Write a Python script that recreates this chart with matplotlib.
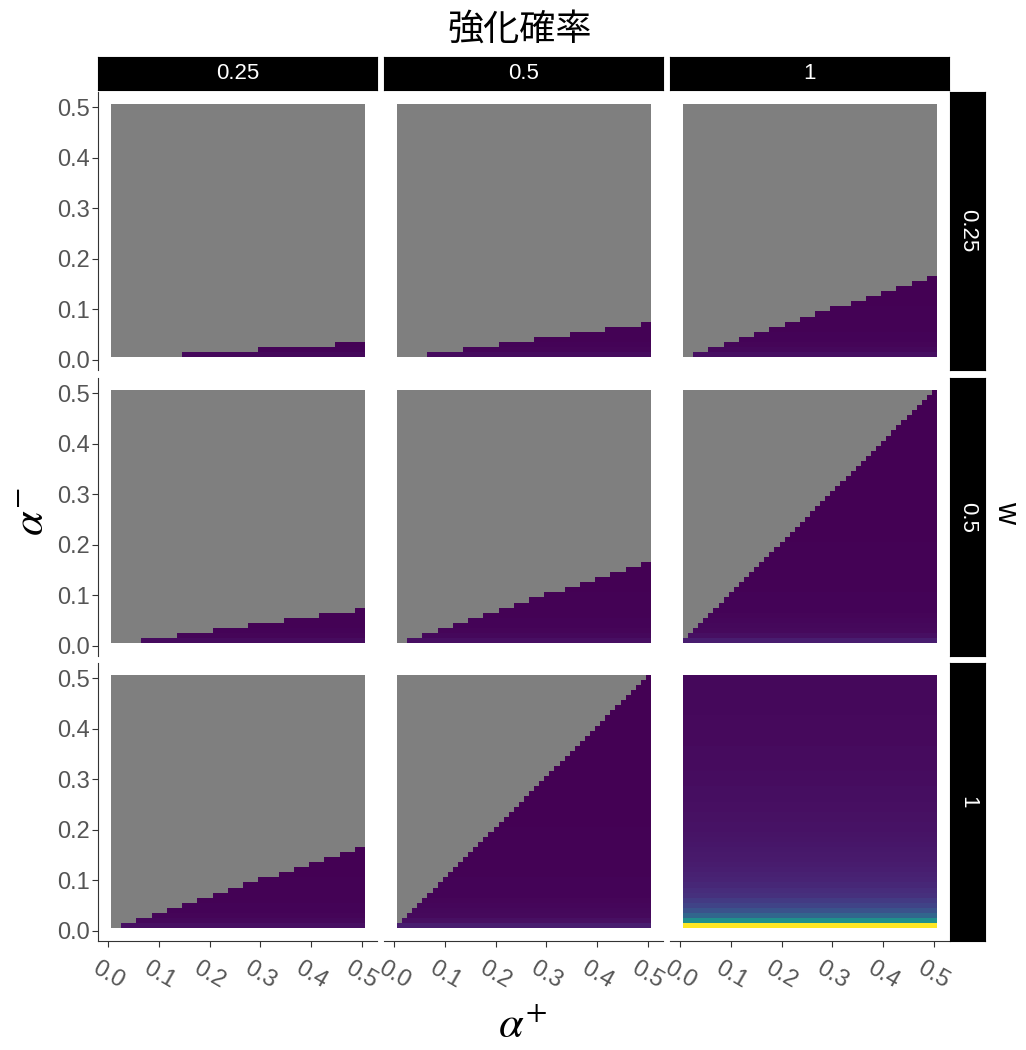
import numpy as np
import matplotlib
matplotlib.use("Agg")
import matplotlib.pyplot as plt

plt.rcParams['font.family'] = ['Liberation Sans', 'Noto Sans CJK JP', 'DejaVu Sans']
plt.rcParams['mathtext.fontset'] = 'stix'

# grid of learning rates (tile centres)
alpha_plus = np.round(np.arange(1, 51) * 0.01, 2)
alpha_minus = np.round(np.arange(1, 51) * 0.01, 2)

prob_levels = ['0.25', '0.5', '1']      # columns: 強化確率
w_levels = ['0.25', '0.5', '1']         # rows: w

# slope of the coloured/grey border (alpha- / alpha+)
border_slope = [[0.067, 0.143, 0.333],
                [0.143, 0.333, 1.0],
                [0.333, 1.0, np.inf]]

# fill value along alpha- for the strongest panel (bottom right)
fill_profile = [1.00, 0.50, 0.33, 0.25, 0.20, 0.17, 0.14, 0.125, 0.11, 0.10,
                0.09, 0.083, 0.077, 0.071, 0.067, 0.063, 0.059, 0.056, 0.053, 0.05,
                0.048, 0.045, 0.043, 0.042, 0.04, 0.038, 0.037, 0.036, 0.034, 0.033,
                0.032, 0.031, 0.03, 0.029, 0.029, 0.028, 0.027, 0.026, 0.026, 0.025,
                0.024, 0.024, 0.023, 0.023, 0.022, 0.022, 0.021, 0.021, 0.02, 0.02]
# how bright each panel gets compared with the bottom right one
panel_scale = [[0.02, 0.03, 0.04],
               [0.03, 0.04, 0.08],
               [0.04, 0.08, 1.0]]

ticks = [0.0, 0.1, 0.2, 0.3, 0.4, 0.5]
tick_labels = ['0.0', '0.1', '0.2', '0.3', '0.4', '0.5']

W, H = 1026, 1050
fig = plt.figure(figsize=(W / 100, H / 100), dpi=100)

cmap = plt.get_cmap('viridis').copy()
cmap.set_bad('#7f7f7f')

col_left = [98, 384, 670]
row_top = [92, 378, 663]
pw, ph = 279, 278
lab_col = '#555555'

def box(x, y, w, h):
    return [x / W, 1 - (y + h) / H, w / W, h / H]

AP, AM = np.meshgrid(alpha_plus, alpha_minus)
prof = np.array(fill_profile)[:, None] * np.ones((1, len(alpha_plus)))

for r in range(3):
    for c in range(3):
        ax = fig.add_axes(box(col_left[c], row_top[r], pw, ph))
        z = prof * panel_scale[r][c]
        z = np.where(AM <= border_slope[r][c] * AP + 1e-4, z, np.nan)
        ax.imshow(z, origin='lower', cmap=cmap, vmin=0, vmax=1,
                  extent=(0.005, 0.505, 0.005, 0.505), aspect='auto',
                  interpolation='nearest')
        ax.set_xlim(-0.02, 0.53)
        ax.set_ylim(-0.02, 0.53)
        for s in ['top', 'right']:
            ax.spines[s].set_visible(False)
        ax.spines['left'].set_visible(c == 0)
        ax.spines['bottom'].set_visible(r == 2)
        ax.spines['left'].set_color('#333333')
        ax.spines['bottom'].set_color('#333333')
        if c == 0:
            ax.set_yticks(ticks)
            ax.set_yticklabels(tick_labels, fontsize=17, color=lab_col)
            ax.tick_params(axis='y', length=4, color='#333333', pad=2)
        else:
            ax.set_yticks([])
        if r == 2:
            ax.set_xticks(ticks)
            ax.set_xticklabels(tick_labels, fontsize=17, color=lab_col,
                               rotation=-30, ha='center', va='top')
            ax.tick_params(axis='x', length=4, color='#333333', pad=8)
        else:
            ax.set_xticks([])

# top strips
for c in range(3):
    sa = fig.add_axes(box(col_left[c], 57, pw, 33))
    sa.set_facecolor('black')
    sa.set_xticks([])
    sa.set_yticks([])
    sa.text(0.5, 0.5, prob_levels[c], color='white', fontsize=16,
            ha='center', va='center', transform=sa.transAxes)

# right strips
for r in range(3):
    sa = fig.add_axes(box(950, row_top[r], 35, ph))
    sa.set_facecolor('black')
    sa.set_xticks([])
    sa.set_yticks([])
    sa.text(0.5, 0.5, w_levels[r], color='white', fontsize=16, rotation=-90,
            ha='center', va='center', transform=sa.transAxes)

fig.text(520 / W, 1 - 30 / H, '強化確率', fontsize=26, ha='center', va='center')
fig.text(1006 / W, 1 - 512 / H, 'w', fontsize=22, rotation=-90, ha='center', va='center')
fig.text(32 / W, 1 - 512 / H, r'$\alpha^{-}$', fontsize=32, rotation=90,
         ha='center', va='center')
fig.text(523 / W, 1 - 1026 / H, r'$\alpha^{+}$', fontsize=32, ha='center', va='center')

fig.savefig('out.png', dpi=100)
